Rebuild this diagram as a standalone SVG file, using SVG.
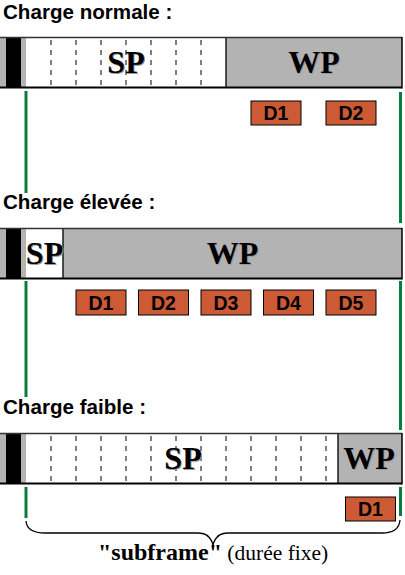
<svg xmlns="http://www.w3.org/2000/svg" width="405" height="575" viewBox="0 0 405 575">
<style>
.title{font-family:"Liberation Sans",Arial,sans-serif;font-weight:bold;font-size:20.6px;fill:#000}
.big{font-family:"Liberation Serif","Times New Roman",serif;font-weight:bold;font-size:32px;fill:#000;text-anchor:middle}
.shadow{fill:#9a9a9a}
.white{fill:#fff}
.gray{fill:#b3b3b3}
.div{stroke:#1a1a1a;stroke-width:1.5}
.dash{stroke:#7f7f7f;stroke-width:2;stroke-dasharray:5 5}
.dbox rect{fill:#cc5a35;stroke:#000;stroke-width:1}
.dbox text{font-family:"Liberation Sans",Arial,sans-serif;font-weight:bold;font-size:19.5px;fill:#000;text-anchor:middle}
.green{stroke:#0a7d3b;stroke-width:3}
.brace{fill:none;stroke:#000;stroke-width:1.3}
</style>
<defs>
<g id="cap">
<rect x="0" y="0" width="26" height="51" fill="#b3b3b3"/>
<rect x="6" y="0" width="15" height="51" fill="#000"/>
</g>
</defs>

<g id="section-normal">
<text class="title" x="3" y="19">Charge normale :</text>
<g id="bar1">
<rect class="white" x="26" y="37" width="200" height="51"/>
<rect class="gray" x="226" y="37" width="176" height="51"/>
<use href="#cap" x="0" y="37"/>
<g>
<line class="dash" x1="51" y1="40" x2="51" y2="86"/>
<line class="dash" x1="76" y1="40" x2="76" y2="86"/>
<line class="dash" x1="101" y1="40" x2="101" y2="86"/>
<line class="dash" x1="126" y1="40" x2="126" y2="86"/>
<line class="dash" x1="151" y1="40" x2="151" y2="86"/>
<line class="dash" x1="176" y1="40" x2="176" y2="86"/>
<line class="dash" x1="201" y1="40" x2="201" y2="86"/>
</g>
<line class="div" x1="226" y1="37" x2="226" y2="88"/>
<line x1="0" y1="37.5" x2="402" y2="37.5" stroke="#333" stroke-width="1.5"/>
<line x1="0" y1="87.5" x2="402" y2="87.5" stroke="#000" stroke-width="2"/>
<line x1="402" y1="37" x2="402" y2="88.5" stroke="#000" stroke-width="1.5"/>
<text class="big shadow" x="127" y="74">SP</text>
<text class="big" x="126" y="73">SP</text>
<text class="big shadow" x="315" y="74">WP</text>
<text class="big" x="314" y="73">WP</text>
</g>
<g id="n-d1" class="dbox"><rect x="251" y="101" width="50" height="24"/><text x="276" y="120">D1</text></g>
<g id="n-d2" class="dbox"><rect x="326" y="101" width="50" height="24"/><text x="351" y="120">D2</text></g>
</g>

<g id="section-high">
<text class="title" x="3" y="209">Charge élevée :</text>
<g id="bar2">
<rect class="white" x="26" y="228" width="37" height="51"/>
<rect class="gray" x="63" y="228" width="339" height="51"/>
<use href="#cap" x="0" y="228"/>
<line class="div" x1="63" y1="228" x2="63" y2="279"/>
<line x1="0" y1="228.5" x2="402" y2="228.5" stroke="#333" stroke-width="1.5"/>
<line x1="0" y1="278.5" x2="402" y2="278.5" stroke="#000" stroke-width="2"/>
<line x1="402" y1="228" x2="402" y2="279.5" stroke="#000" stroke-width="1.5"/>
<text class="big shadow" x="45.5" y="265">SP</text>
<text class="big" x="44.5" y="264">SP</text>
<text class="big shadow" x="233.5" y="265">WP</text>
<text class="big" x="232.5" y="264">WP</text>
</g>
<g id="h-d1" class="dbox"><rect x="76" y="290" width="50" height="25"/><text x="101" y="310">D1</text></g>
<g id="h-d2" class="dbox"><rect x="138.5" y="290" width="50" height="25"/><text x="163.5" y="310">D2</text></g>
<g id="h-d3" class="dbox"><rect x="201" y="290" width="50" height="25"/><text x="226" y="310">D3</text></g>
<g id="h-d4" class="dbox"><rect x="263.5" y="290" width="50" height="25"/><text x="288.5" y="310">D4</text></g>
<g id="h-d5" class="dbox"><rect x="326" y="290" width="50" height="25"/><text x="351" y="310">D5</text></g>
</g>

<g id="section-low">
<text class="title" x="3" y="414">Charge faible :</text>
<g id="bar3">
<rect class="white" x="26" y="433" width="312" height="51"/>
<rect class="gray" x="338" y="433" width="64" height="51"/>
<use href="#cap" x="0" y="433"/>
<g>
<line class="dash" x1="51" y1="436" x2="51" y2="482"/>
<line class="dash" x1="76" y1="436" x2="76" y2="482"/>
<line class="dash" x1="101" y1="436" x2="101" y2="482"/>
<line class="dash" x1="126" y1="436" x2="126" y2="482"/>
<line class="dash" x1="151" y1="436" x2="151" y2="482"/>
<line class="dash" x1="176" y1="436" x2="176" y2="482"/>
<line class="dash" x1="201" y1="436" x2="201" y2="482"/>
<line class="dash" x1="226" y1="436" x2="226" y2="482"/>
<line class="dash" x1="251" y1="436" x2="251" y2="482"/>
<line class="dash" x1="276" y1="436" x2="276" y2="482"/>
<line class="dash" x1="301" y1="436" x2="301" y2="482"/>
<line class="dash" x1="326" y1="436" x2="326" y2="482"/>
</g>
<line class="div" x1="338" y1="433" x2="338" y2="484"/>
<line x1="0" y1="433.5" x2="402" y2="433.5" stroke="#333" stroke-width="1.5"/>
<line x1="0" y1="483.5" x2="402" y2="483.5" stroke="#000" stroke-width="2"/>
<line x1="402" y1="433" x2="402" y2="484.5" stroke="#000" stroke-width="1.5"/>
<text class="big shadow" x="184" y="470">SP</text>
<text class="big" x="183" y="469">SP</text>
<text class="big shadow" x="370" y="470">WP</text>
<text class="big" x="369" y="469">WP</text>
</g>
<g id="l-d1" class="dbox"><rect x="345.5" y="497" width="50" height="24"/><text x="370.5" y="516">D1</text></g>
</g>

<g id="connectors">
<line class="green" x1="26" y1="91" x2="26" y2="193"/>
<line class="green" x1="400.5" y1="92" x2="400.5" y2="223"/>
<line class="green" x1="26" y1="281" x2="26" y2="397"/>
<line class="green" x1="400.5" y1="281" x2="400.5" y2="430"/>
<line class="green" x1="26" y1="487" x2="26" y2="518"/>
<line class="green" x1="400.5" y1="487" x2="400.5" y2="516"/>
<path class="brace" d="M26,521 Q27,533 45,533 L198,533 Q210,533 213,545 Q216,533 228,533 L382,533 Q399,533 400,520"/>
</g>

<g id="caption">
<text x="98" y="560" font-family="'Liberation Serif','Times New Roman',serif" fill="#000"><tspan font-weight="bold" font-size="24">"subframe"</tspan><tspan font-size="21.5"> (durée fixe)</tspan></text>
</g>
</svg>
